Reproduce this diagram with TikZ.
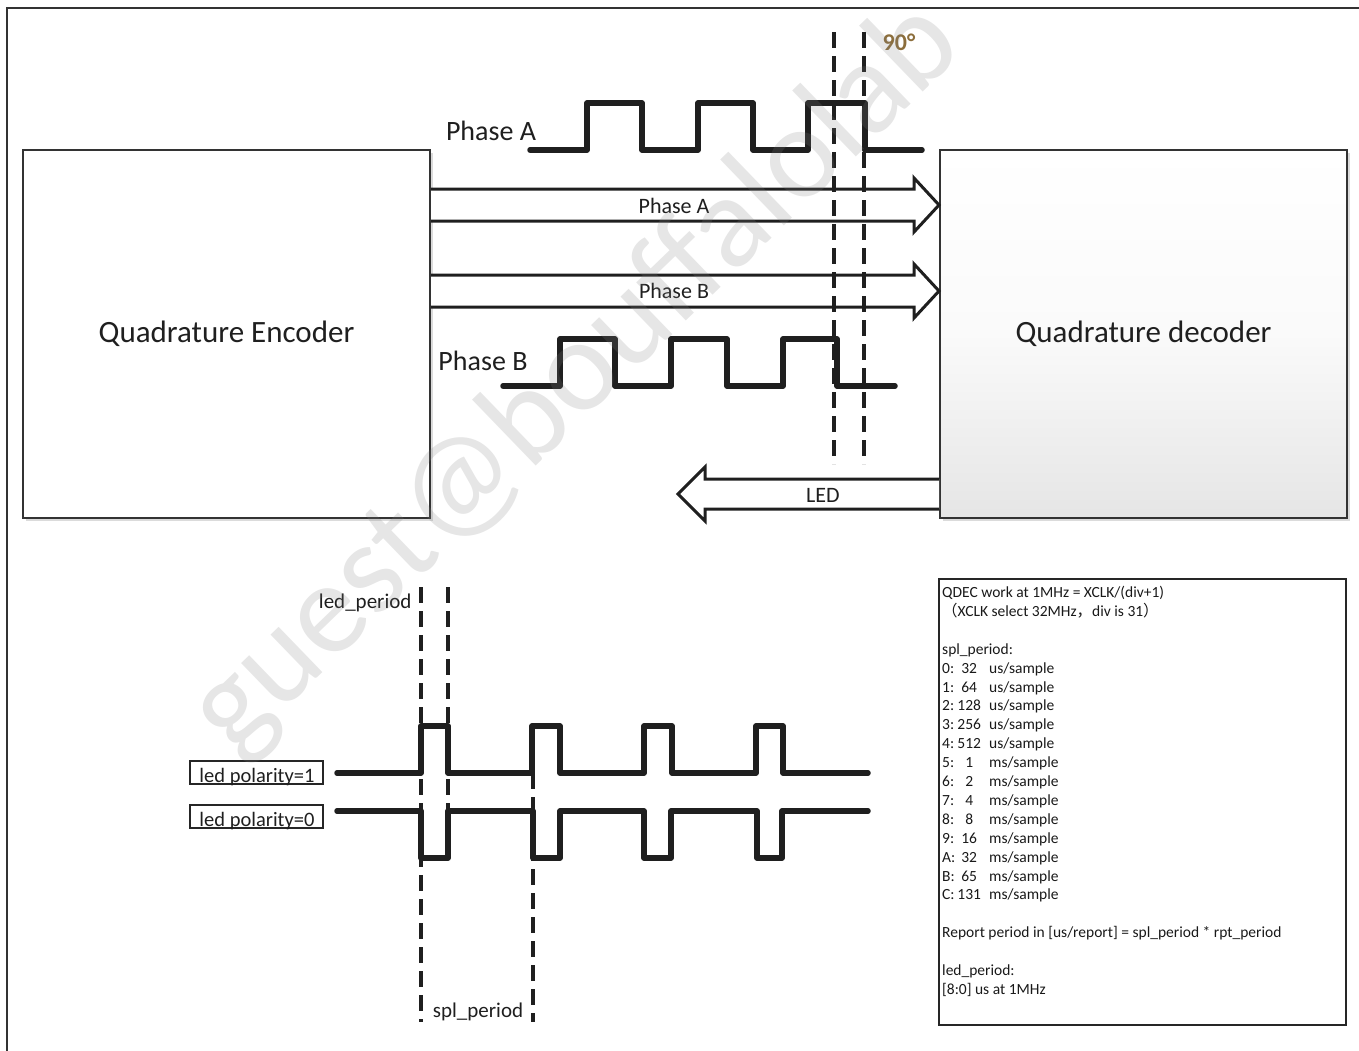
\documentclass[tikz,border=0pt]{standalone}
\usepackage{fontspec}
\setmainfont{Carlito}
\newfontfamily\cjkf{Noto Sans CJK SC}
\usetikzlibrary{shadows}
\newcommand{\rw}[3]{\makebox[15pt][l]{#1}\makebox[24pt][c]{#2}\hspace{8pt}#3}
\begin{document}
\begin{tikzpicture}[x=1pt,y=-1pt,
  wave/.style={line width=5.5pt, line join=round, line cap=round, draw=black!88},
  guide/.style={line width=3.5pt, dash pattern=on 16pt off 8pt, draw=black!88},
  fat/.style={line width=3pt, draw=black!88, fill=white, line join=miter},
  blk/.style={draw=black!80, line width=2pt, minimum width=407pt, minimum height=368pt, inner sep=0pt,
     font=\fontsize{31}{37}\selectfont, text=black!88,
     drop shadow={shadow xshift=3pt, shadow yshift=-3pt, fill=black!14, opacity=1}},
  lbl/.style={font=\fontsize{22}{26}\selectfont, text=black!88},
  biglbl/.style={font=\fontsize{28}{32}\selectfont, text=black!88},
  small/.style={font=\fontsize{21}{25}\selectfont, text=black!88},
  polbox/.style={draw=black!85, line width=1.5pt, minimum width=133pt, minimum height=23pt, inner sep=0pt},
  polt/.style={font=\fontsize{20.5}{24}\selectfont, text=black!88, anchor=base}
]
\useasboundingbox (0,0) rectangle (1359,1050);

% outer frame (only top and left edges visible)
\draw[line width=2pt, black!80] (7,1055) -- (7,8) -- (1365,8);

% blocks
\node[blk, fill=white] (enc) at (226.5,334) {\raisebox{-2pt}{Quadrature Encoder}};
\node[blk, top color=white, bottom color=black!10, middle color=black!2] (dec) at (1143.5,333.5) {\raisebox{-2pt}{Quadrature decoder}};

% fat arrows
\draw[fat] (enc.east |- 0,189) -- (914,189) -- (914,178) -- (dec.west |- 0,205)
  -- (914,232) -- (914,221) -- (enc.east |- 0,221);
\node[lbl] (arA) at (674,206) {Phase A};
\draw[fat] (enc.east |- 0,275) -- (914,275) -- (914,264) -- (dec.west |- 0,291)
  -- (914,318) -- (914,307) -- (enc.east |- 0,307);
\node[lbl] (arB) at (674,291) {Phase B};
\draw[fat] (dec.west |- 0,479) -- (705,479) -- (705,467) -- (678,494)
  -- (705,521) -- (705,509) -- (dec.west |- 0,509);
\node[lbl] (led) at (823,495) {LED};

% Phase A waveform
\node[biglbl] (pA) at (491,131) {Phase A};
\draw[wave] (530,150) -- (587,150) -- (587,103) -- (642,103) -- (642,150) -- (698,150)
  -- (698,103) -- (753,103) -- (753,150) -- (808,150) -- (808,103) -- (865,103)
  -- (865,150) -- (922,150);
% Phase B waveform
\node[biglbl] (pB) at (483,361) {Phase B};
\draw[wave] (503,386) -- (560,386) -- (560,339) -- (615,339) -- (615,386) -- (671,386)
  -- (671,339) -- (727,339) -- (727,386) -- (783,386) -- (783,339) -- (837,339)
  -- (837,386) -- (895,386);

% 90 degree guides
\draw[guide] (834,32) -- (834,464);
\draw[guide] (864,32) -- (864,464);
\node[font=\bfseries\fontsize{24}{28}\selectfont, text={rgb,255:red,140;green,110;blue,60}] (deg) at (899,42) {90°};

% LED waveforms
\node[polbox] (p1) at (256.5,772.5) {};
\node[polt] (p1t) at (257,782) {led polarity=1};
\node[polbox] (p0) at (256.5,816.5) {};
\node[polt] (p0t) at (257,826) {led polarity=0};

\draw[wave] (337,773) -- (421,773) -- (421,726) -- (448,726) -- (448,773) -- (532,773)
  -- (532,726) -- (560,726) -- (560,773) -- (644,773) -- (644,726) -- (672,726)
  -- (672,773) -- (756,773) -- (756,726) -- (783,726) -- (783,773) -- (868,773);
\draw[wave] (337,811) -- (421,811) -- (421,858) -- (448,858) -- (448,811) -- (533,811)
  -- (533,858) -- (560,858) -- (560,811) -- (644,811) -- (644,858) -- (671,858)
  -- (671,811) -- (757,811) -- (757,858) -- (782,858) -- (782,811) -- (868,811);

\draw[guide] (421,587) -- (421,1022);
\draw[guide] (448,587) -- (448,811);
\draw[guide] (533,773) -- (533,1022);
\node[small, anchor=east] (ledp) at (415,603) {led\_period};
\node[small] (splp) at (478,1012) {spl\_period};

% info box
\node[draw=black!85, line width=2pt, minimum width=407pt, minimum height=446pt, anchor=north west, inner sep=0pt] (info) at (938,578) {};
\node[anchor=north west, align=left, inner sep=0pt, text=black!90,
      font=\fontsize{15.5}{18.9}\selectfont] (infot) at (942,586) {%
QDEC work at 1MHz = XCLK/(div+1)\\
{\cjkf （}XCLK select 32MHz{\cjkf ，}div is 31{\cjkf ）}\\
\mbox{}\\
spl\_period:\\
\rw{0:}{32}{us/sample}\\
\rw{1:}{64}{us/sample}\\
\rw{2:}{128}{us/sample}\\
\rw{3:}{256}{us/sample}\\
\rw{4:}{512}{us/sample}\\
\rw{5:}{1}{ms/sample}\\
\rw{6:}{2}{ms/sample}\\
\rw{7:}{4}{ms/sample}\\
\rw{8:}{8}{ms/sample}\\
\rw{9:}{16}{ms/sample}\\
\rw{A:}{32}{ms/sample}\\
\rw{B:}{65}{ms/sample}\\
\rw{C:}{131}{ms/sample}\\
\mbox{}\\
Report period in {[}us/report{]} = spl\_period * rpt\_period\\
\mbox{}\\
led\_period:\\
{[}8:0{]} us at 1MHz};

% watermark
\node[rotate=44, anchor=west, font=\fontsize{132}{132}\selectfont, text=black!50, opacity=0.2] (wm) at (208,735) {guest@bouffalolab};
\end{tikzpicture}
\end{document}
